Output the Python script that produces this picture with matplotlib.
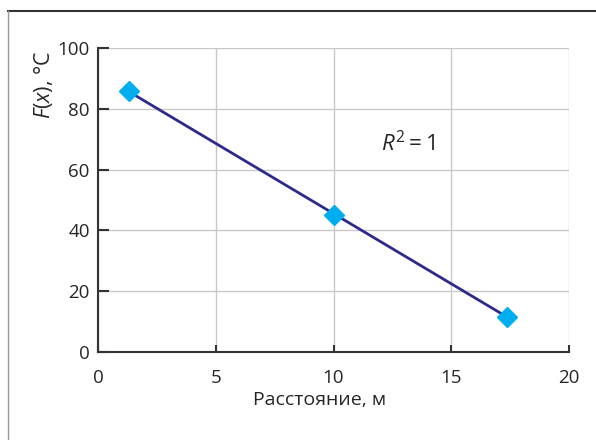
import matplotlib
matplotlib.use('Agg')
import matplotlib.pyplot as plt
from matplotlib.lines import Line2D

plt.rcParams['font.family'] = ['Open Sans', 'DejaVu Sans']
plt.rcParams['mathtext.fontset'] = 'custom'
plt.rcParams['mathtext.rm'] = 'Open Sans'
plt.rcParams['mathtext.it'] = 'Open Sans:italic'

# data
distance = [1.3, 10.0, 17.35]
temperature = [85.7, 45.0, 11.6]
x_ticks = [0, 5, 10, 15, 20]
y_ticks = [0, 20, 40, 60, 80, 100]

txt = '#262626'

fig = plt.figure(figsize=(5.96, 4.40), dpi=100)
ax = fig.add_axes([98/596, 88/440, 471/596, 304/440])

# frame around the figure (top and left edges)
fig.add_artist(Line2D([8/596, 1], [1 - 11/440, 1 - 11/440], color='#333333', lw=1.5))
fig.add_artist(Line2D([8/596, 8/596], [0, 1 - 11/440], color='#999999', lw=1.0))

# trend line through first and last point, then markers
ax.plot([distance[0], distance[-1]], [temperature[0], temperature[-1]],
        color='#2e2a8c', lw=2, zorder=3)
ax.plot(distance, temperature, linestyle='none', marker='D', markersize=10,
        color='#00aeef', zorder=4)

ax.text(13.15, 68.7, r'$\it{R}^2 = 1$', fontsize=16, color=txt,
        ha='center', va='center')

ax.set_xlim(0, 20)
ax.set_ylim(0, 100)
ax.set_xticks(x_ticks)
ax.set_yticks(y_ticks)
ax.grid(True, color='#c8c8c8', lw=1)
ax.set_axisbelow(True)

for s in ['top', 'right']:
    ax.spines[s].set_visible(False)
for s in ['left', 'bottom']:
    ax.spines[s].set_color('#333333')
    ax.spines[s].set_linewidth(1.5)

ax.tick_params(axis='y', direction='in', length=8, width=1.5, color='#333333',
               labelsize=13.5, labelcolor=txt, pad=6)
ax.tick_params(axis='x', direction='in', length=5, width=1.5, color='#333333',
               labelsize=13.5, labelcolor=txt, pad=12)

ax.set_xlabel('Расстояние, м', fontsize=14, color=txt)
ax.xaxis.set_label_coords((320 - 98) / 471, (352 - 391) / 304)
ax.set_ylabel(r'$\it{F}$($\it{x}$), °C', fontsize=15.5, color=txt,
              loc='top')
ax.yaxis.set_label_coords((55 - 98) / 471, 0.993)

fig.savefig('out.png', dpi=100)
